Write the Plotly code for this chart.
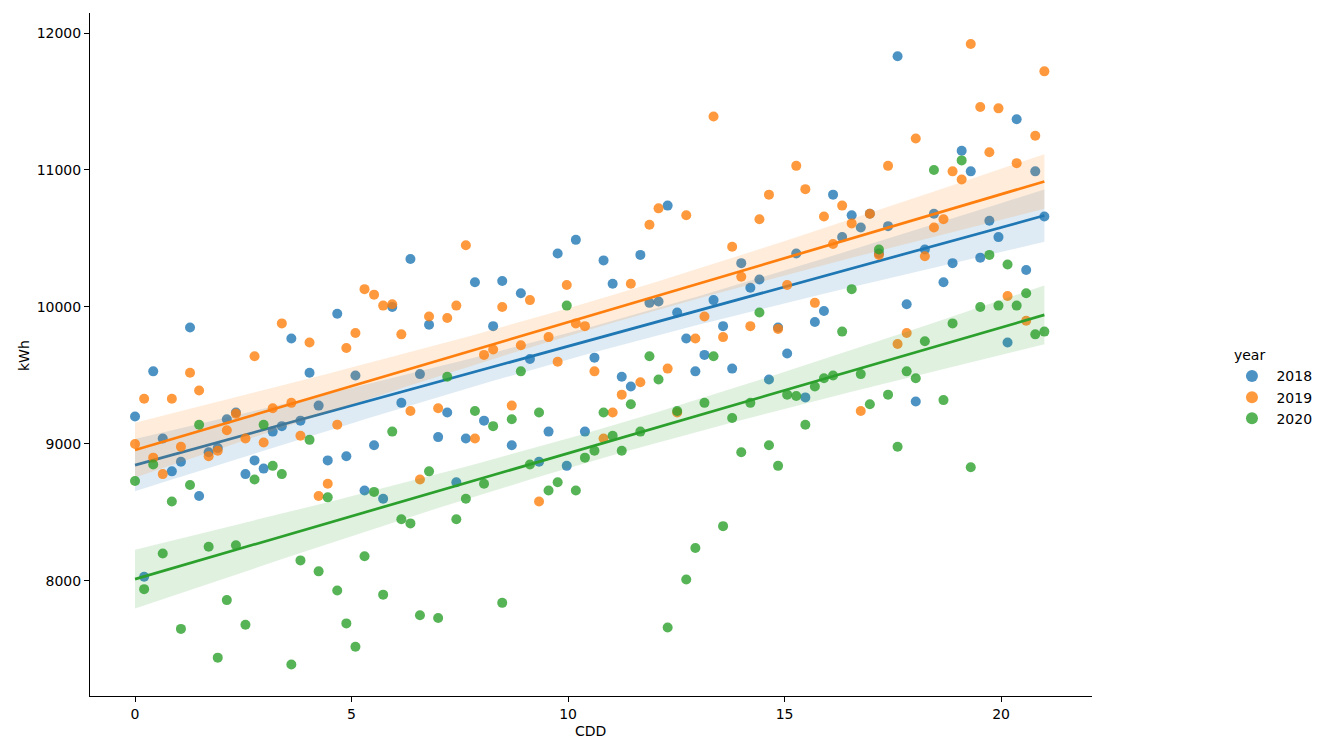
import numpy as np
import plotly.graph_objects as go

cdd = [0.00, 0.21, 0.42, 0.64, 0.85, 1.06, 1.27, 1.48, 1.70, 1.91,
       2.12, 2.33, 2.55, 2.76, 2.97, 3.18, 3.39, 3.61, 3.82, 4.03,
       4.24, 4.45, 4.67, 4.88, 5.09, 5.30, 5.52, 5.73, 5.94, 6.15,
       6.36, 6.58, 6.79, 7.00, 7.21, 7.42, 7.64, 7.85, 8.06, 8.27,
       8.48, 8.70, 8.91, 9.12, 9.33, 9.55, 9.76, 9.97, 10.18, 10.39,
       10.61, 10.82, 11.03, 11.24, 11.45, 11.67, 11.88, 12.09, 12.30, 12.52,
       12.73, 12.94, 13.15, 13.36, 13.58, 13.79, 14.00, 14.21, 14.42, 14.64,
       14.85, 15.06, 15.27, 15.48, 15.70, 15.91, 16.12, 16.33, 16.55, 16.76,
       16.97, 17.18, 17.39, 17.61, 17.82, 18.03, 18.24, 18.45, 18.67, 18.88,
       19.09, 19.30, 19.52, 19.73, 19.94, 20.15, 20.36, 20.58, 20.79, 21.00]

kwh_2018 = [9200, 8030, 9530, 9040, 8800, 8870, 9850, 8620, 8940, 8970,
            9180, 9230, 8780, 8880, 8820, 9090, 9130, 9770, 9170, 9520,
            9280, 8880, 9950, 8910, 9500, 8660, 8990, 8600, 10000, 9300,
            10350, 9510, 9870, 9050, 9230, 8720, 9040, 10180, 9170, 9860,
            10190, 8990, 10100, 9620, 8870, 9090, 10390, 8840, 10490, 9090,
            9630, 10340, 10170, 9490, 9420, 10380, 10030, 10040, 10740, 9960,
            9770, 9530, 9650, 10050, 9860, 9550, 10320, 10140, 10200, 9470,
            9850, 9660, 10390, 9340, 9890, 9970, 10820, 10510, 10670, 10580,
            10680, 10390, 10590, 11830, 10020, 9310, 10420, 10680, 10180, 10320,
            11140, 10990, 10360, 10630, 10510, 9740, 11370, 10270, 10990, 10660]

kwh_2019 = [9000, 9330, 8900, 8780, 9330, 8980, 9520, 9390, 8910, 8950,
            9100, 9220, 9040, 9640, 9010, 9260, 9880, 9300, 9060, 9740,
            8620, 8710, 9140, 9700, 9810, 10130, 10090, 10010, 10020, 9800,
            9240, 8740, 9930, 9260, 9920, 10010, 10450, 9040, 9650, 9690,
            10000, 9280, 9720, 10050, 8580, 9780, 9600, 10160, 9880, 9860,
            9530, 9040, 9230, 9360, 10170, 9450, 10600, 10720, 9550, 9230,
            10670, 9770, 9930, 11390, 9780, 10440, 10220, 9860, 10640, 10820,
            9840, 10160, 11030, 10860, 10030, 10660, 10460, 10740, 10610, 9240,
            10680, 10380, 11030, 9730, 9810, 11230, 10370, 10580, 10640, 10990,
            10930, 11920, 11460, 11130, 11450, 10080, 11050, 9900, 11250, 11720]

kwh_2020 = [8730, 7940, 8850, 8200, 8580, 7650, 8700, 9140, 8250, 7440,
            7860, 8260, 7680, 8740, 9140, 8840, 8780, 7390, 8150, 9030,
            8070, 8610, 7930, 7690, 7520, 8180, 8650, 7900, 9090, 8450,
            8420, 7750, 8800, 7730, 9490, 8450, 8600, 9240, 8710, 9130,
            7840, 9180, 9530, 8850, 9230, 8660, 8720, 10010, 8660, 8900,
            8950, 9230, 9060, 8950, 9290, 9090, 9640, 9470, 7660, 9240,
            8010, 8240, 9300, 9640, 8400, 9190, 8940, 9300, 9960, 8990,
            8840, 9360, 9350, 9140, 9420, 9480, 9500, 9820, 10130, 9510,
            9290, 10420, 9360, 8980, 9530, 9480, 9750, 11000, 9320, 9880,
            11070, 8830, 10000, 10380, 10010, 10310, 10010, 10100, 9800, 9820]

years = ["2018", "2019", "2020"]
series = [kwh_2018, kwh_2019, kwh_2020]
colors = ["#1f77b4", "#ff7f0e", "#2ca02c"]
band_colors = ["rgba(31,119,180,0.15)", "rgba(255,127,14,0.15)", "rgba(44,160,44,0.15)"]

x = np.array(cdd, dtype=float)
fig = go.Figure()

for yr, vals, col, bcol in zip(years, series, colors, band_colors):
    y = np.array(vals, dtype=float)
    fig.add_trace(go.Scatter(
        x=x, y=y, mode="markers", name=" " + yr,
        marker=dict(color=col, size=10, opacity=0.8, line=dict(width=0)),
        legendgroup=yr, showlegend=True,
    ))
    n = len(x)
    b, a = np.polyfit(x, y, 1)
    grid = np.linspace(x.min(), x.max(), 100)
    yhat = a + b * grid
    resid = y - (a + b * x)
    s = np.sqrt(np.sum(resid ** 2) / (n - 2))
    sxx = np.sum((x - x.mean()) ** 2)
    se = s * np.sqrt(1.0 / n + (grid - x.mean()) ** 2 / sxx)
    tval = 1.984
    upper = yhat + tval * se
    lower = yhat - tval * se
    fig.add_trace(go.Scatter(
        x=np.concatenate([grid, grid[::-1]]),
        y=np.concatenate([upper, lower[::-1]]),
        fill="toself", fillcolor=bcol, line=dict(width=0),
        mode="lines", hoverinfo="skip", showlegend=False, legendgroup=yr,
    ))
    fig.add_trace(go.Scatter(
        x=grid, y=yhat, mode="lines",
        line=dict(color=col, width=2.7),
        showlegend=False, legendgroup=yr,
    ))

font = dict(family="DejaVu Sans", size=14, color="#000000")
fig.update_layout(
    width=1321, height=745,
    margin=dict(l=90, r=229, t=13, b=49, autoexpand=False),
    paper_bgcolor="white", plot_bgcolor="white",
    font=font,
    showlegend=True,
    legend=dict(
        title=dict(text="year", font=dict(family="DejaVu Sans", size=14)),
        xref="container", yref="container",
        x=0.9326, xanchor="left", y=0.479, yanchor="middle",
        font=dict(family="DejaVu Sans", size=14),
        bgcolor="rgba(0,0,0,0)", borderwidth=0,
        itemsizing="constant", tracegroupgap=0,
    ),
    xaxis=dict(
        range=[-1.04, 22.1], tickvals=[0, 5, 10, 15, 20],
        showgrid=False, zeroline=False, showline=True, linecolor="black", linewidth=1,
        ticks="outside", ticklen=5, tickcolor="black", tickwidth=1,
        automargin=False, mirror=False,
    ),
    yaxis=dict(
        range=[7160, 12146], tickvals=[8000, 9000, 10000, 11000, 12000],
        tickformat="d",
        showgrid=False, zeroline=False, showline=True, linecolor="black", linewidth=1,
        ticks="outside", ticklen=5, tickcolor="black", tickwidth=1,
        automargin=False, mirror=False,
    ),
)

plot_w = 1321 - 90 - 229
plot_h = 745 - 13 - 49
fig.add_annotation(text="CDD", x=(590 - 90) / plot_w, xref="paper",
                   y=-(731 - 696) / plot_h, yref="paper", showarrow=False,
                   font=font, xanchor="center", yanchor="middle")
fig.add_annotation(text="kWh", x=-(90 - 24) / plot_w, xref="paper",
                   y=(696 - 356) / plot_h, yref="paper", showarrow=False,
                   font=font, textangle=-90, xanchor="center", yanchor="middle")

fig.write_html("out.html")
